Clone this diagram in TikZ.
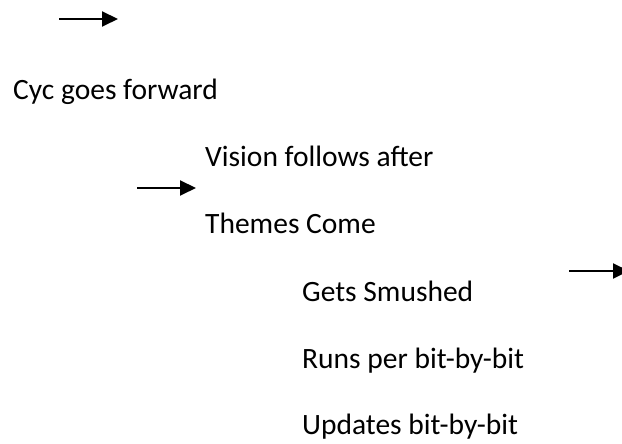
\documentclass[tikz,border=0pt]{standalone}
\usepackage{fontspec}
\setmainfont{Carlito}
\usetikzlibrary{arrows.meta, positioning}
\tikzset{
  phase/.style={inner sep=0pt, anchor=base west,
                font=\fontsize{29.5}{34}\selectfont},
  arrow/.style={-{Triangle[length=16pt, width=15pt]}, line width=2pt},
}

\begin{document}
\begin{tikzpicture}[x=1pt, y=1pt, node distance=66.5pt]
  \useasboundingbox (0,0) rectangle (622,444);

  \node [phase] (cyc) at (13,344) {Cyc goes forward};
  \node [phase] (vision) at (205,277) {Vision follows after};
  \node [phase, below=of vision.base west, anchor=base west] (themes) {Themes Come};
  \node [phase] (smushed) at (302,142) {Gets Smushed};
  \node [phase, below=of smushed.base west, anchor=base west] (runs) {Runs per bit-by-bit};
  \node [phase, below=of runs.base west, anchor=base west] (updates) {Updates bit-by-bit};

  \coordinate (a1s) at (59,425);
  \coordinate (a1e) at (118,425);
  \coordinate (a2s) at (137,256);
  \coordinate (a2e) at (196,256);
  \coordinate (a3s) at (569,173);
  \coordinate (a3e) at (629,173);

  \draw [arrow] (a1s) -- (a1e);
  \draw [arrow] (a2s) -- (a2e);
  \draw [arrow] (a3s) -- (a3e);
\end{tikzpicture}
\end{document}
